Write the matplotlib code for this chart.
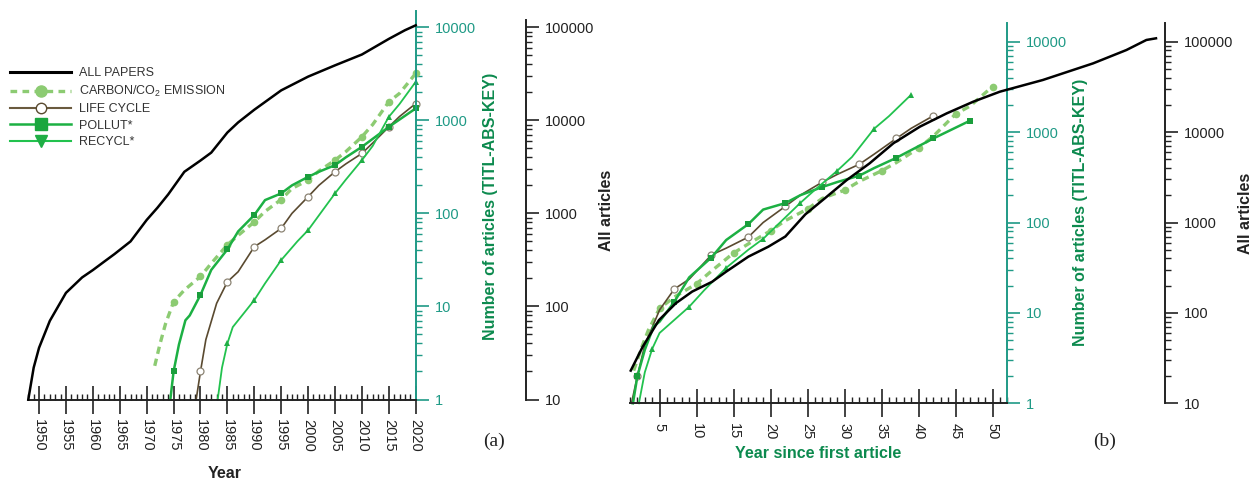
import numpy as np
import matplotlib
matplotlib.use("Agg")
import matplotlib.pyplot as plt
from matplotlib.lines import Line2D
from matplotlib.ticker import (FixedLocator, LogLocator, NullFormatter,
                               MultipleLocator, FuncFormatter)

plt.rcParams['font.family'] = ['Liberation Sans', 'DejaVu Sans']
plt.rcParams['mathtext.default'] = 'regular'

# ------------------------------------------------------------------ data
# (a) ALL PAPERS, read on the black "All articles" axis
all_years = [1948, 1949, 1950, 1952, 1955, 1958, 1960, 1962, 1964, 1967, 1970,
             1972, 1974, 1977, 1980, 1982, 1985, 1987, 1990, 1995, 2000, 2005,
             2010, 2015, 2018, 2020]
all_counts = [10, 22, 36, 70, 140, 205, 246, 300, 365, 500, 850,
              1150, 1600, 2800, 3700, 4500, 7400, 9500, 13000, 21000, 29500, 39000,
              51000, 75000, 93000, 105000]

# (b) ALL PAPERS vs. year since first article
all_t_b = [1.1, 2.7, 4.9, 7.2, 9.4, 12.1, 14, 17, 19.7, 22, 24.7, 27.6, 30.3,
           33.4, 36.6, 40.2, 43.8, 47.4, 51, 56.8, 63.6, 68.1, 70.8, 72.1]
all_counts_b = [23, 42, 83, 128, 172, 221, 286, 419, 540, 700, 1230, 1930, 2950,
                4520, 7520, 11500, 16100, 21700, 28000, 37700, 57600, 80900, 104500, 109000]

# keyword series (green axis, TITL-ABS-KEY)
carbon_years = [1971.5, 1972.5, 1973.5, 1975, 1977, 1980, 1982, 1985, 1987, 1990, 1992,
                1995, 1997, 2000, 2002, 2005, 2007, 2010, 2012, 2015, 2017, 2020]
carbon_counts = [2.3, 4.0, 6.5, 11.2, 15, 21, 29, 46, 58, 81, 105,
                 141, 185, 228, 285, 373, 460, 665, 900, 1580, 1950, 3190]

life_years = [1979.2, 1980, 1981, 1983, 1985, 1987, 1990, 1992, 1995, 1997, 2000,
              2002, 2005, 2007, 2010, 2012, 2015, 2017, 2020]
life_counts = [1, 2.0, 4.4, 10.8, 18.4, 23.6, 43.8, 52, 69, 100, 151,
               200, 280, 340, 441, 570, 850, 1100, 1515]

pollut_years = [1974.4, 1975, 1976, 1977.2, 1978, 1980, 1982, 1985, 1987, 1990, 1992,
                1995, 1997, 2000, 2002, 2005, 2007, 2010, 2015, 2020]
pollut_counts = [1, 2.0, 3.9, 7.1, 8, 13.3, 24.7, 41, 64, 96, 139,
                 164, 200, 247, 280, 330, 400, 519, 850, 1343]

recycl_years = [1983.2, 1984, 1985, 1986, 1988.5, 1990, 1992, 1995, 1998, 2000, 2002,
                2005, 2007, 2010, 2012, 2015, 2017, 2020]
recycl_counts = [1, 2.2, 4.0, 6, 9.1, 11.7, 17.7, 31.5, 50, 66, 95,
                 164, 230, 373, 530, 1090, 1500, 2590]

first_year = {'carbon': 1970, 'life': 1978, 'pollut': 1973, 'recycl': 1981}

legend_labels = ['ALL PAPERS', 'CARBON/CO$_2$ EMISSION', 'LIFE CYCLE',
                 'POLLUT*', 'RECYCL*']
green_ticks = [1, 10, 100, 1000, 10000]
black_ticks = [10, 100, 1000, 10000, 100000]

# ------------------------------------------------------------------ styles
TEAL = '#1f9a86'
LBL_GREEN = '#0c8a4e'
DARK = '#222222'
styles = {
    'carbon': dict(color='#8ccb72', lw=2.4, ls=(0, (2.2, 1.5)), marker='o', ms=5.5,
                   mfc='#8ccb72', mec='#8ccb72', mew=0),
    'life': dict(color='#5a4a30', lw=1.2, ls='-', marker='o', ms=5,
                 mfc='white', mec='#8c8474', mew=0.9),
    'pollut': dict(color='#1cb043', lw=1.8, ls='-', marker='s', ms=5,
                   mfc='#1a9e3c', mec='#1a9e3c', mew=0),
    'recycl': dict(color='#22c24e', lw=1.3, ls='-', marker='^', ms=5,
                   mfc='#1fae45', mec='#1fae45', mew=0),
}
series = {
    'carbon': (carbon_years, carbon_counts),
    'life': (life_years, life_counts),
    'pollut': (pollut_years, pollut_counts),
    'recycl': (recycl_years, recycl_counts),
}

W, H = 1260, 482
fig = plt.figure(figsize=(W / 100, H / 100), dpi=100)


def add_px_axes(x0, x1, ytop, ybot):
    return fig.add_axes([x0 / W, 1 - ybot / H, (x1 - x0) / W, (ybot - ytop) / H])


def make_panel(x0, x1, ytop, y1px, y4px, xlim, black_x, black_top):
    dec = (y1px - y4px) / 4.0
    ax = add_px_axes(x0, x1, ytop, y1px)
    ax.set_yscale('log')
    ax.set_ylim(1, 10 ** ((y1px - ytop) / dec))
    ax.set_xlim(*xlim)
    axk = ax.twinx()
    axk.set_yscale('log')
    axk.set_ylim(10, 10 * 10 ** ((y1px - ytop) / dec))
    ax.yaxis.tick_right()

    for s in ['left', 'top']:
        ax.spines[s].set_visible(False)
    ax.spines['right'].set_color(TEAL)
    ax.spines['right'].set_linewidth(1.4)
    ax.spines['bottom'].set_color(DARK)
    ax.spines['bottom'].set_linewidth(1.4)
    for s in ['left', 'top', 'bottom']:
        axk.spines[s].set_visible(False)
    axk.spines['right'].set_position(('axes', (black_x - x0) / (x1 - x0)))
    axk.spines['right'].set_bounds(10, 10 ** (1 + (y1px - black_top) / dec))
    axk.spines['right'].set_color(DARK)
    axk.spines['right'].set_linewidth(1.4)

    fmt = FuncFormatter(lambda v, p: '%d' % int(round(v)))
    for a, ticks, col in [(ax, green_ticks, TEAL), (axk, black_ticks, DARK)]:
        a.yaxis.set_major_locator(FixedLocator(ticks))
        a.yaxis.set_major_formatter(fmt)
        a.yaxis.set_minor_locator(LogLocator(base=10, subs=np.arange(2, 10), numticks=30))
        a.yaxis.set_minor_formatter(NullFormatter())
        a.tick_params(axis='y', which='major', direction='out', length=9.5, width=1.2,
                      color=col, labelcolor=col, labelsize=10.5, pad=4)
        a.tick_params(axis='y', which='minor', direction='out', length=4.5, width=1.0,
                      color=col)

    ax.xaxis.set_major_locator(MultipleLocator(5))
    ax.xaxis.set_minor_locator(MultipleLocator(1))
    ax.tick_params(axis='x', which='major', direction='inout', length=20, width=1.2,
                   color=DARK, labelcolor=DARK, labelsize=10.5, pad=4,
                   labelrotation=-90)
    ax.tick_params(axis='x', which='minor', direction='in', length=4.5, width=1.0,
                   color=DARK)
    return ax, axk


def marker_idx(years):
    return [i for i, y in enumerate(years) if float(y) % 5 == 0]


# ---------------- panel (a)
ax_a, axk_a = make_panel(28.3, 415.7, 11, 399.5, 27.3, (1948, 2020), 526, 20)
for key, (yrs, vals) in series.items():
    ax_a.plot(yrs, vals, markevery=marker_idx(yrs), clip_on=False, **styles[key])
axk_a.plot(all_years, all_counts, color='black', lw=1.8, clip_on=False, zorder=5)

# ---------------- panel (b)
ax_b, axk_b = make_panel(630, 1007.3, 23.3, 403.3, 41.7, (1, 52), 1165, 23.3)
for key, (yrs, vals) in series.items():
    t = [y - first_year[key] for y in yrs]
    ax_b.plot(t, vals, markevery=marker_idx(yrs), clip_on=False, **styles[key])
axk_b.plot(all_t_b, all_counts_b, color='black', lw=1.8, clip_on=False, zorder=5)


# ---------------- texts
def ftext(x, y, s, **kw):
    fig.text(x / W, 1 - y / H, s, ha='center', va='center', **kw)


ftext(490.7, 206, 'Number of articles (TITL-ABS-KEY)', rotation=90,
      fontsize=11.5, fontweight='bold', color=LBL_GREEN)
ftext(606.7, 210, 'All articles', rotation=90, fontsize=11.5,
      fontweight='bold', color=DARK)
ftext(1080, 212.5, 'Number of articles (TITL-ABS-KEY)', rotation=90,
      fontsize=11.5, fontweight='bold', color=LBL_GREEN)
ftext(1245, 213, 'All articles', rotation=90, fontsize=11.5,
      fontweight='bold', color=DARK)
ftext(225, 473, 'Year', fontsize=11.5, fontweight='bold', color=DARK)
ftext(818, 454, 'Year since first article', fontsize=11.5, fontweight='bold',
      color=LBL_GREEN)
ftext(494, 441.7, '(a)', fontsize=14, family='Liberation Serif', color=DARK)
ftext(1105, 441.7, '(b)', fontsize=14, family='Liberation Serif', color=DARK)

# ---------------- legend
handles = [
    Line2D([], [], color='black', lw=2.2),
    Line2D([], [], color='#8ccb72', lw=2.4, ls=(0, (2.0, 1.6)), marker='o', ms=8,
           mfc='#8ccb72', mec='#8ccb72'),
    Line2D([], [], color='#6a5a3e', lw=1.5, marker='o', ms=7.5, mfc='white',
           mec='#5a4a30', mew=1.0),
    Line2D([], [], color='#1cb043', lw=1.8, marker='s', ms=8, mfc='#1aa63e',
           mec='#1aa63e'),
    Line2D([], [], color='#22c24e', lw=1.5, marker='v', ms=8, mfc='#1fae45',
           mec='#1fae45'),
]
fig.legend(handles, legend_labels, loc='upper left',
           bbox_to_anchor=(10 / W, 1 - 67.5 / H), bbox_transform=fig.transFigure,
           frameon=False, borderpad=0, borderaxespad=0, handlelength=4.9,
           handletextpad=0.65, labelspacing=0.35, fontsize=9, labelcolor='#333333')

fig.savefig('out.png', dpi=100)
